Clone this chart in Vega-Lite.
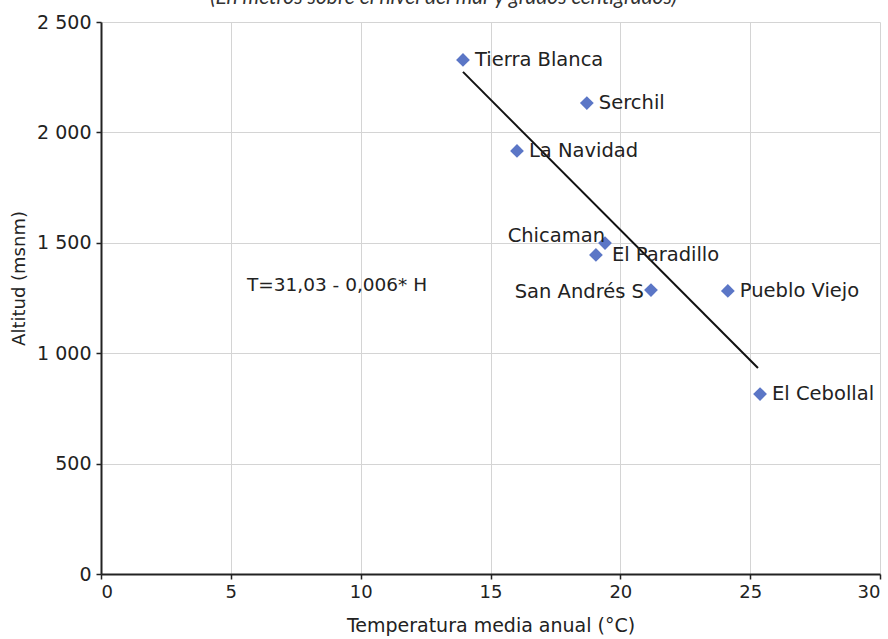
{
  "$schema": "https://vega.github.io/schema/vega-lite/v6.json",
  "autosize": "none",
  "width": 779,
  "height": 552,
  "padding": {"left": 101, "top": 22, "right": 8, "bottom": 65},
  "background": "#ffffff",
  "title": {
    "text": "(En metros sobre el nivel del mar y grados centígrados)",
    "font": "Lato",
    "fontStyle": "italic",
    "fontWeight": "normal",
    "fontSize": 21,
    "color": "#333333",
    "anchor": "middle",
    "offset": 5,
    "dx": -47
  },
  "config": {
    "view": {"stroke": null},
    "axis": {
      "labelFont": "DejaVu Sans",
      "titleFont": "DejaVu Sans",
      "labelColor": "#222222",
      "titleColor": "#222222",
      "titleFontWeight": "normal",
      "gridColor": "#d4d4d4",
      "gridWidth": 1,
      "domainColor": "#222222",
      "domainWidth": 2,
      "tickColor": "#222222",
      "tickWidth": 1.5,
      "tickSize": 5
    }
  },
  "datasets": {
    "puntos": [
      {"lugar": "Tierra Blanca", "temp": 13.94, "alt": 2328},
      {"lugar": "Serchil", "temp": 18.71, "alt": 2133},
      {"lugar": "La Navidad", "temp": 16.02, "alt": 1916},
      {"lugar": "Chicaman", "temp": 19.41, "alt": 1499},
      {"lugar": "El Paradillo", "temp": 19.06, "alt": 1445},
      {"lugar": "San Andrés S", "temp": 21.18, "alt": 1286},
      {"lugar": "Pueblo Viejo", "temp": 24.14, "alt": 1282},
      {"lugar": "El Cebollal", "temp": 25.38, "alt": 815}
    ],
    "recta": [
      {"temp": 13.94, "alt": 2274},
      {"temp": 25.3, "alt": 933}
    ],
    "ecuacion": [
      {"texto": "T=31,03 - 0,006* H", "temp": 5.62, "alt": 1310}
    ]
  },
  "layer": [
    {
      "data": {"name": "recta"},
      "mark": {"type": "line", "color": "#111111", "strokeWidth": 2},
      "encoding": {
        "x": {
          "field": "temp", "type": "quantitative",
          "scale": {"domain": [0, 30], "nice": false},
          "axis": {
            "title": "Temperatura media anual (°C)",
            "values": [0, 5, 10, 15, 20, 25, 30],
            "labelFontSize": 18,
            "titleFontSize": 19,
            "labelPadding": 4,
            "titlePadding": 15
          }
        },
        "y": {
          "field": "alt", "type": "quantitative",
          "scale": {"domain": [0, 2500], "nice": false},
          "axis": {
            "title": "Altitud (msnm)",
            "values": [0, 500, 1000, 1500, 2000, 2500],
            "labelExpr": "replace(format(datum.value, ','), ',', ' ')",
            "labelFontSize": 19,
            "titleFontSize": 18,
            "labelPadding": 5,
            "titlePadding": 8,
            "titleY": 256
          }
        }
      }
    },
    {
      "data": {"name": "puntos"},
      "mark": {"type": "point", "shape": "diamond", "filled": true, "color": "#5b76c6", "opacity": 1, "size": 190},
      "encoding": {
        "x": {"field": "temp", "type": "quantitative"},
        "y": {"field": "alt", "type": "quantitative"}
      }
    },
    {
      "data": {"name": "puntos"},
      "transform": [{"filter": "datum.lugar !== 'Chicaman' && datum.lugar !== 'San Andrés S' && datum.lugar !== 'El Paradillo'"}],
      "mark": {"type": "text", "align": "left", "baseline": "middle", "dx": 12, "font": "DejaVu Sans", "fontSize": 19.5, "color": "#222222"},
      "encoding": {
        "x": {"field": "temp", "type": "quantitative"},
        "y": {"field": "alt", "type": "quantitative"},
        "text": {"field": "lugar"}
      }
    },
    {
      "data": {"name": "puntos"},
      "transform": [{"filter": "datum.lugar === 'El Paradillo'"}],
      "mark": {"type": "text", "align": "left", "baseline": "middle", "dx": 16, "font": "DejaVu Sans", "fontSize": 19.5, "color": "#222222"},
      "encoding": {
        "x": {"field": "temp", "type": "quantitative"},
        "y": {"field": "alt", "type": "quantitative"},
        "text": {"field": "lugar"}
      }
    },
    {
      "data": {"name": "puntos"},
      "transform": [{"filter": "datum.lugar === 'Chicaman'"}],
      "mark": {"type": "text", "align": "right", "baseline": "middle", "dx": 0, "dy": -7, "font": "DejaVu Sans", "fontSize": 19.5, "color": "#222222"},
      "encoding": {
        "x": {"field": "temp", "type": "quantitative"},
        "y": {"field": "alt", "type": "quantitative"},
        "text": {"field": "lugar"}
      }
    },
    {
      "data": {"name": "puntos"},
      "transform": [{"filter": "datum.lugar === 'San Andrés S'"}],
      "mark": {"type": "text", "align": "right", "baseline": "middle", "dx": -7, "dy": 2, "font": "DejaVu Sans", "fontSize": 19.5, "color": "#222222"},
      "encoding": {
        "x": {"field": "temp", "type": "quantitative"},
        "y": {"field": "alt", "type": "quantitative"},
        "text": {"field": "lugar"}
      }
    },
    {
      "data": {"name": "ecuacion"},
      "mark": {"type": "text", "align": "left", "baseline": "middle", "font": "DejaVu Sans", "fontSize": 18.5, "color": "#222222"},
      "encoding": {
        "x": {"field": "temp", "type": "quantitative"},
        "y": {"field": "alt", "type": "quantitative"},
        "text": {"field": "texto"}
      }
    }
  ]
}
